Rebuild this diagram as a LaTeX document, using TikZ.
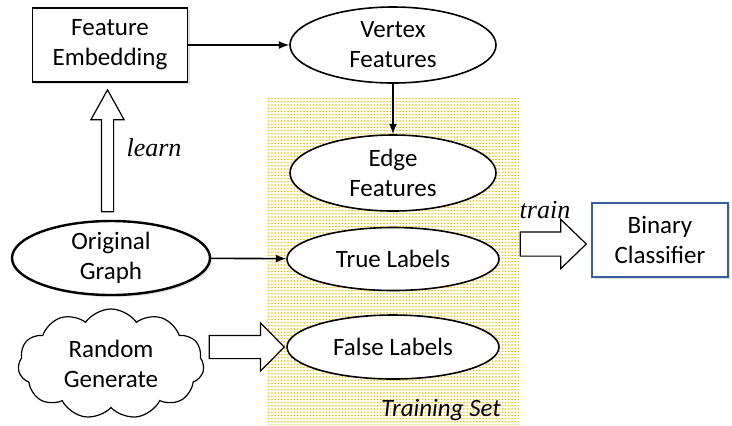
\documentclass[tikz,border=0pt]{standalone}
\usepackage{fontspec}
\setmainfont{Carlito}
\newfontfamily\labelfont{Liberation Serif}
\usetikzlibrary{shapes.geometric, shapes.symbols, shapes.arrows, shadows, patterns.meta, positioning, calc}

\definecolor{dotyellow}{RGB}{255,190,0}
\definecolor{boxblue}{RGB}{56,93,160}

\tikzset{
	block/.style={draw, line width=0.8pt, fill=white, align=center, inner sep=0pt},
	oval/.style={block, ellipse, minimum width=103pt, minimum height=38pt},
	shade/.style={drop shadow={shadow xshift=1pt, shadow yshift=-1pt, opacity=0.25}},
	fatarrow/.style={draw, single arrow, fill=white, line width=0.6pt, inner sep=0pt}
}

\begin{document}
\begin{tikzpicture}[x=0.5pt, y=-0.5pt, >=latex, font=\fontsize{12.5}{15}\selectfont]

	\useasboundingbox (0,0) rectangle (732,425);

	% training set area
	\fill[pattern={Dots[radius=0.45pt, distance=1.6pt]}, pattern color=dotyellow]
	(266,98) rectangle (519,424);
	\node[font=\fontsize{12.5}{13}\selectfont\itshape] (ts) at (441,410) {Training Set};

	\node[block, shade, minimum width=77.5pt, minimum height=37pt] (emb) at (110,45) {Feature\\Embedding};
	\node[oval] (vf) at (393,45) {Vertex\\Features};
	\node[oval] (ef) at (393,173) {Edge\\Features};
	\node[oval, minimum width=106pt, minimum height=31.5pt] (tl) at (393,259) {True Labels};
	\node[oval, minimum width=106pt, minimum height=32pt] (fl) at (393,347) {False Labels};
	\node[oval, shade, line width=1.2pt, minimum width=99pt, minimum height=37pt] (og) at (111,258) {Original\\Graph};
	\node[block, cloud, cloud puffs=11, cloud puff arc=110, aspect=1.6, inner sep=-6pt, line width=0.6pt,
		minimum width=93pt, minimum height=55pt] (rg) at (111,364) {Random\\Generate};
	\node[block, shade, draw=boxblue, minimum width=68pt, minimum height=37pt] (bc) at (660,240) {Binary\\Classifier};

	% block arrows
	\node[fatarrow, rotate=90, minimum height=61pt, minimum width=16pt,
		single arrow head extend=5.25pt, single arrow tip angle=58, inner sep=2.75pt]
	(up) at ($(emb.south)!0.5!(og.north)+(-3,5)$) {};
	\node[fatarrow, minimum height=33pt, minimum width=24pt,
		single arrow head extend=6.25pt, single arrow tip angle=88, inner sep=5.75pt]
	(tr) at (547,244) {};
	\node[fatarrow, minimum height=37.5pt, minimum width=23.5pt,
		single arrow head extend=6.25pt, single arrow tip angle=91, inner sep=5.5pt]
	(ra) at (241,347) {};

	\node[font=\fontsize{13}{15}\selectfont\labelfont\itshape, right=6pt of up.center, anchor=west, yshift=4.5pt] (ln) {learn};
	\node[font=\fontsize{13}{15}\selectfont\labelfont\itshape] (tn) at (545,210) {train};

	\draw[->, line width=0.8pt]
	(emb) edge (vf)
	(vf) edge (ef)
	(og) edge (tl);

\end{tikzpicture}
\end{document}
